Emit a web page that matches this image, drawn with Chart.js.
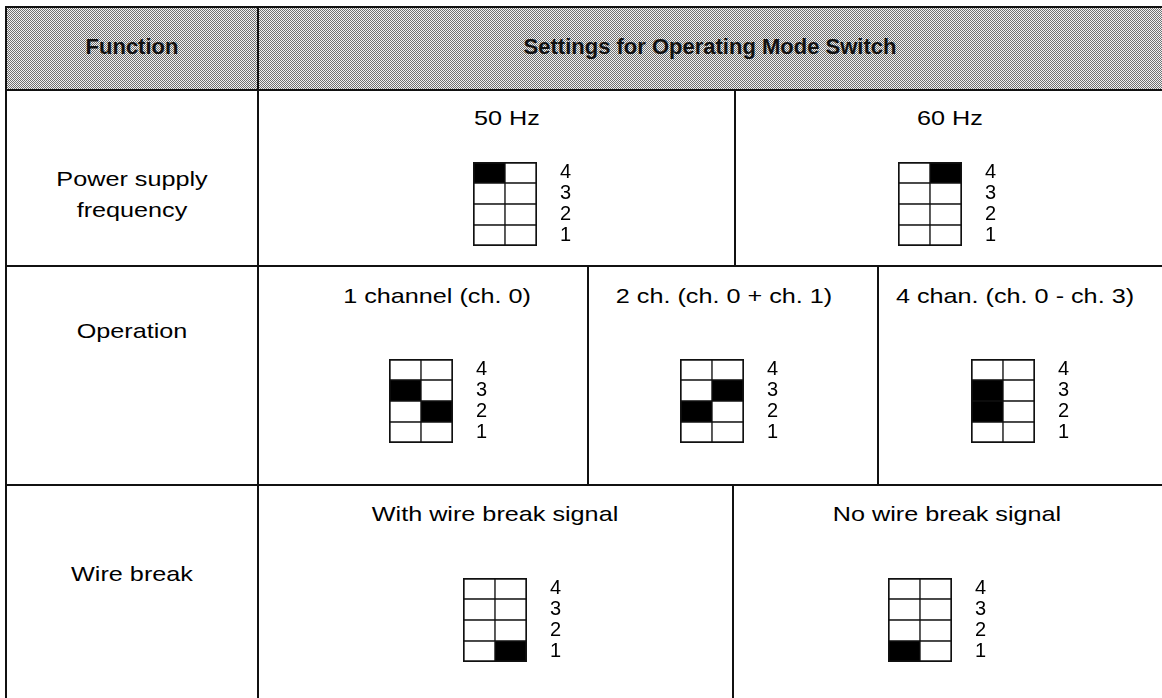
<!DOCTYPE html>
<html>
<head>
<meta charset="utf-8">
<script src="https://cdn.jsdelivr.net/npm/chart.js@4"></script>
<style>
  html, body { margin: 0; padding: 0; background: #fff; }
  #page { position: relative; width: 1162px; height: 698px; overflow: hidden; background: #fff; font-family: "Liberation Sans", Arial, sans-serif; color: #000; }
  .hline, .vline { position: absolute; background: #111; }
  .shade { position: absolute; image-rendering: pixelated;
    background-image: url("data:image/svg+xml;utf8,<svg xmlns='http://www.w3.org/2000/svg' width='2' height='2' shape-rendering='crispEdges'><rect width='2' height='2' fill='%23f2f2f2'/><rect width='1' height='1' fill='%23707070'/><rect x='1' y='1' width='1' height='1' fill='%23707070'/></svg>");
    background-size: 2px 2px; }
  .txt { position: absolute; white-space: nowrap; font-size: 21px; transform: translate(-50%, -50%) scaleX(1.2); text-align: center; line-height: 31px; }
  .head { position: absolute; white-space: nowrap; font-size: 22px; font-weight: bold; transform: translate(-50%, -50%); color: #111; }
  canvas { position: absolute; }
</style>
</head>
<body>
<div id="page"></div>
<script>
// table texts
const headerLabels = ['Function', 'Settings for Operating Mode Switch'];
const functionLabels = ['Power supply<br>frequency', 'Operation', 'Wire break'];

// one entry per switch picture
const switchTitles = ['50 Hz', '60 Hz', '1 channel (ch. 0)', '2 ch. (ch. 0 + ch. 1)', '4 chan. (ch. 0 - ch. 3)', 'With wire break signal', 'No wire break signal'];
const positionLabels = ['1', '2', '3', '4'];
// switch positions that are set (black) in the left / right column
const leftOn = [[4], [], [3], [2], [2, 3], [], [1]];
const rightOn = [[], [4], [2], [3], [], [1], []];

const page = document.getElementById('page');

function add(cls, css, html) {
  const d = document.createElement('div');
  d.className = cls;
  Object.assign(d.style, css);
  if (html) d.innerHTML = html;
  page.appendChild(d);
  return d;
}

// header shading
add('shade', { left: '6px', top: '8px', width: '1170px', height: '82px' });

// table lines
add('hline', { left: '5px', top: '6px', width: '1170px', height: '2px' });
add('hline', { left: '5px', top: '89px', width: '1170px', height: '2px' });
add('hline', { left: '5px', top: '265px', width: '1170px', height: '2px' });
add('hline', { left: '5px', top: '484px', width: '1170px', height: '2px' });
add('vline', { left: '5px', top: '6px', width: '2px', height: '700px' });
add('vline', { left: '257px', top: '6px', width: '2px', height: '700px' });
add('vline', { left: '734px', top: '90px', width: '2px', height: '176px' });
add('vline', { left: '587px', top: '266px', width: '2px', height: '219px' });
add('vline', { left: '877px', top: '266px', width: '2px', height: '219px' });
add('vline', { left: '732px', top: '485px', width: '2px', height: '220px' });

// header
add('head', { left: '132px', top: '47px' }, headerLabels[0]);
add('head', { left: '710px', top: '47px' }, headerLabels[1]);

// function column
const funcPos = [[132, 194], [132, 330], [132, 573]];
functionLabels.forEach((t, i) => {
  add('txt', { left: funcPos[i][0] + 'px', top: funcPos[i][1] + 'px' }, t);
});

// switch pictures: title centre, grid top-left
const titlePos = [[507, 117], [950, 117], [437, 295], [724, 295], [1015, 295], [495, 513], [947, 513]];
const gridPos = [[473, 162], [898, 162], [389, 359], [680, 359], [971, 359], [463, 578], [888, 578]];
const gridW = 64, gridH = 84, labelW = 50;

switchTitles.forEach((title, i) => {
  add('txt', { left: titlePos[i][0] + 'px', top: titlePos[i][1] + 'px' }, title);

  const cv = document.createElement('canvas');
  cv.width = gridW + labelW;
  cv.height = gridH;
  cv.style.left = gridPos[i][0] + 'px';
  cv.style.top = gridPos[i][1] + 'px';
  cv.style.width = (gridW + labelW) + 'px';
  cv.style.height = gridH + 'px';
  page.appendChild(cv);

  const datasets = positionLabels.map((p, r) => ({
    label: p,
    data: [1, 1],
    backgroundColor: [
      leftOn[i].includes(r + 1) ? '#000' : '#fff',
      rightOn[i].includes(r + 1) ? '#000' : '#fff'
    ],
    borderColor: '#111',
    borderSkipped: false,
    borderWidth: ctx => ({
      left: ctx.dataIndex === 0 ? 2 : 1,
      right: ctx.dataIndex === 1 ? 2 : 1,
      top: ctx.datasetIndex === 3 ? 2 : 1,
      bottom: ctx.datasetIndex === 0 ? 2 : 1
    }),
    categoryPercentage: 1,
    barPercentage: 1
  }));

  new Chart(cv, {
    type: 'bar',
    data: { labels: ['L', 'R'], datasets: datasets },
    options: {
      responsive: false,
      animation: false,
      devicePixelRatio: 1,
      layout: { padding: 0 },
      plugins: { legend: { display: false }, tooltip: { enabled: false } },
      scales: {
        x: { type: 'category', stacked: true, display: false },
        y: {
          stacked: true,
          min: 0,
          max: 4,
          position: 'right',
          grid: { display: false, drawTicks: false },
          border: { display: false },
          afterBuildTicks: s => { s.ticks = [0.5, 1.5, 2.5, 3.5].map(v => ({ value: v })); },
          afterFit: s => { s.width = labelW; s.paddingTop = 0; s.paddingBottom = 0; },
          ticks: {
            autoSkip: false,
            padding: 23,
            color: '#000',
            font: { family: 'Liberation Sans', size: 20, lineHeight: 1 },
            callback: v => positionLabels[Math.floor(v)]
          }
        }
      }
    }
  });
});
</script>
</body>
</html>
